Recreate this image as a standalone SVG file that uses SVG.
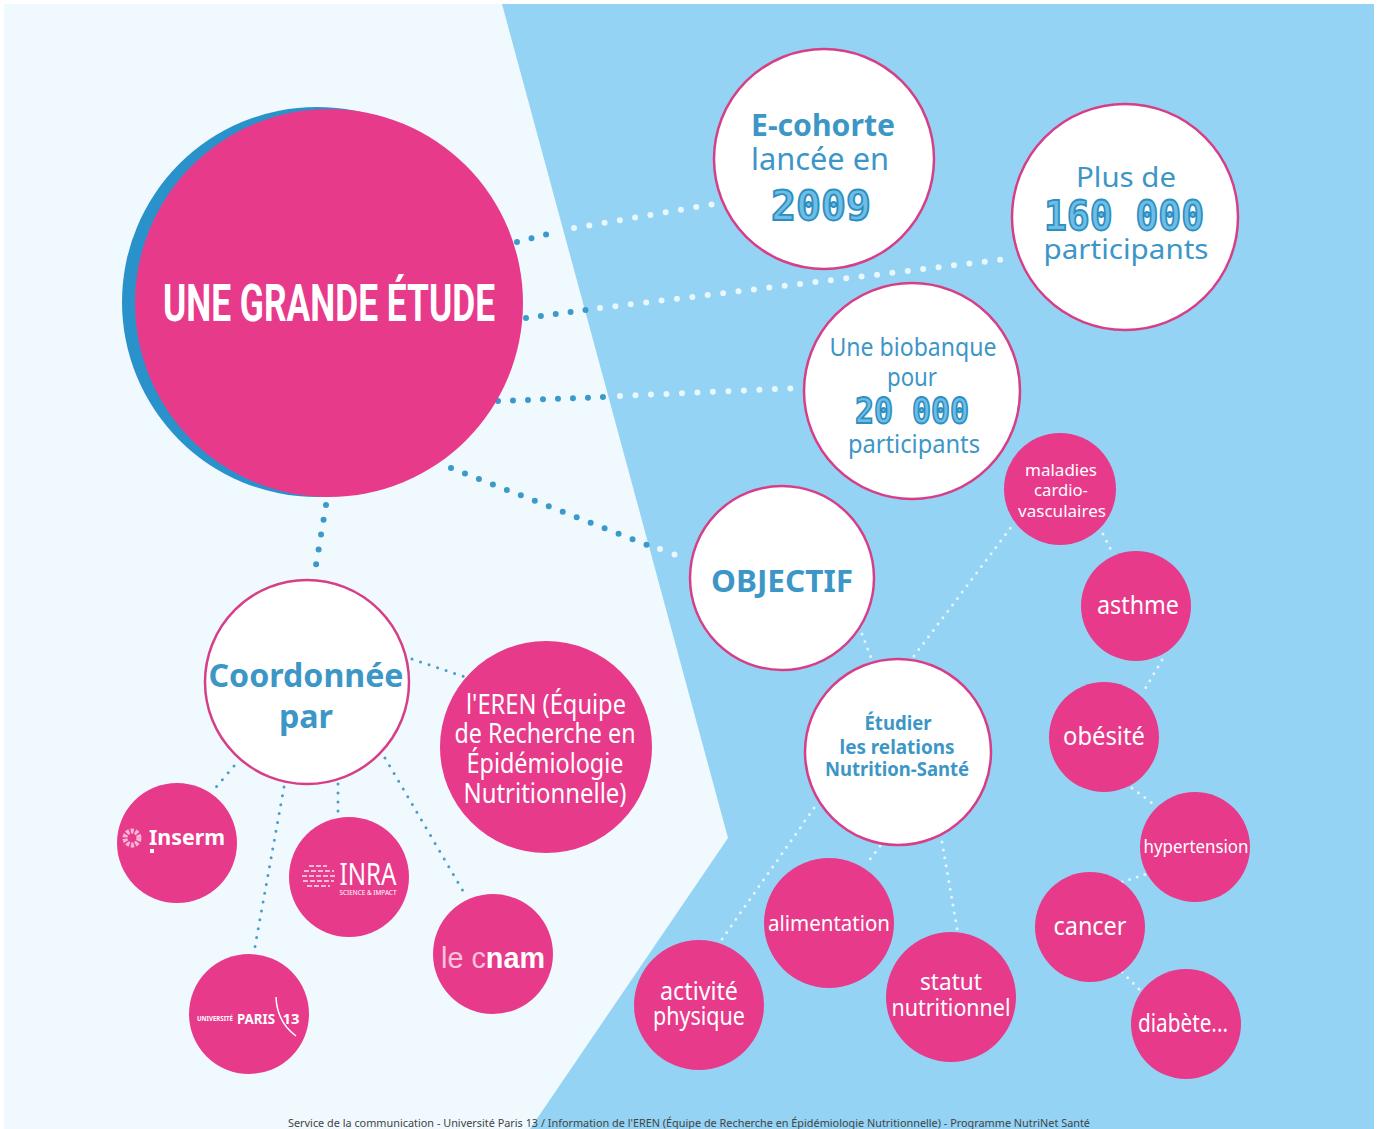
<svg xmlns="http://www.w3.org/2000/svg" width="1380" height="1129" viewBox="0 0 1380 1129">
<style>
text{font-family:"Noto Sans","DejaVu Sans",sans-serif;text-anchor:middle}
.w{fill:#fff;stroke:#d63f87;stroke-width:2.5}
.p{fill:#e83a8b}
.b{fill:#3c96c6}
.t{fill:#fff}
.n{fill:#6dbde6;stroke:#2d8fc0;stroke-width:1.8;font-family:"DejaVu Sans Mono",monospace;font-weight:700}
.c{fill:none;stroke-linecap:round}
.dk{stroke:#3a9aca;stroke-width:6;stroke-dasharray:0 15}
.lt{stroke:#eaf7fd;stroke-width:6;stroke-dasharray:0 15.5}
.thin{stroke:#4b9cc8;stroke-width:3;stroke-dasharray:0 9}
.thinw{stroke:#e4f4fc;stroke-width:3;stroke-dasharray:0 8}
.logo{fill:none;stroke:#f6b9d5;stroke-width:2;stroke-dasharray:5 2}
</style>
<rect width="1380" height="1129" fill="#fff"/>
<rect x="4" y="4" width="1370" height="1125" fill="#f0f9fd"/>
<polygon points="502,4 1374,4 1374,1129 530,1129 728,838" fill="#94d3f3"/>
<g id="connectors">
<path class="c dk" d="M517 242L556 232"/><path class="c lt" d="M574 228L720 203"/>
<path class="c dk" d="M526 318L586 310"/><path class="c lt" d="M600 308L1015 258"/>
<path class="c dk" d="M498 401L605 397"/><path class="c lt" d="M620 396L800 388"/>
<path class="c dk" d="M451 468L650 546"/><path class="c lt" d="M660 549L684 558"/>
<path class="c dk" d="M326 505L314 577"/>
<path class="c thin" d="M412 659L465 677"/>
<path class="c thin" d="M234 766L212 792"/>
<path class="c thin" d="M284 787L254 952"/>
<path class="c thin" d="M338 784V816"/>
<path class="c thin" d="M385 758L466 896"/>
<path class="c thinw" d="M862 634L872 660"/>
<path class="c thinw" d="M914 656L1012 526"/>
<path class="c thinw" d="M1103 534L1112 552"/>
<path class="c thinw" d="M1162 660L1142 694"/>
<path class="c thinw" d="M1132 788L1156 806"/>
<path class="c thinw" d="M1122 882L1146 874"/>
<path class="c thinw" d="M1122 972L1140 990"/>
<path class="c thinw" d="M814 808L720 942"/>
<path class="c thinw" d="M880 846L868 862"/>
<path class="c thinw" d="M942 842L958 934"/>
</g>
<g id="main">
<circle cx="317" cy="302" r="195" fill="#2a92cb"/>
<circle cx="329" cy="303" r="194" class="p"/>
<text x="329" y="321" class="t" font-size="52" font-weight="700" style="font-family:Roboto,sans-serif" textLength="332" lengthAdjust="spacingAndGlyphs">UNE GRANDE ÉTUDE</text>
</g>
<g id="ecohorte">
<circle cx="824" cy="159" r="110" class="w"/>
<text x="823" y="136" class="b" font-size="31" font-weight="700" textLength="144" lengthAdjust="spacingAndGlyphs">E-cohorte</text>
<text x="820" y="170" class="b" font-size="30" textLength="138" lengthAdjust="spacingAndGlyphs">lancée en</text>
<text x="821" y="220" class="n" font-size="40" textLength="100" lengthAdjust="spacingAndGlyphs">2009</text>
</g>
<g id="participants">
<circle cx="1125" cy="217" r="113" class="w"/>
<text x="1126" y="187" class="b" font-size="28" textLength="100" lengthAdjust="spacingAndGlyphs">Plus de</text>
<text x="1124" y="230" class="n" font-size="40" textLength="160" lengthAdjust="spacingAndGlyphs">160 000</text>
<text x="1126" y="259" class="b" font-size="28" textLength="165" lengthAdjust="spacingAndGlyphs">participants</text>
</g>
<g id="biobanque">
<circle cx="912" cy="391" r="108" class="w"/>
<text x="913" y="356" class="b" font-size="25" textLength="167" lengthAdjust="spacingAndGlyphs">Une biobanque</text>
<text x="912" y="386" class="b" font-size="25" textLength="50" lengthAdjust="spacingAndGlyphs">pour</text>
<text x="912" y="423" class="n" font-size="36" textLength="114" lengthAdjust="spacingAndGlyphs">20 000</text>
<text x="914" y="453" class="b" font-size="25" textLength="132" lengthAdjust="spacingAndGlyphs">participants</text>
</g>
<g id="objectif">
<circle cx="782" cy="578" r="92" class="w"/>
<text x="782" y="592" class="b" font-size="30" font-weight="700" textLength="142" lengthAdjust="spacingAndGlyphs">OBJECTIF</text>
</g>
<g id="etudier">
<circle cx="898" cy="752" r="93" class="w"/>
<text x="898" y="730" class="b" font-size="19" font-weight="700" textLength="67" lengthAdjust="spacingAndGlyphs">Étudier</text>
<text x="897" y="754" class="b" font-size="19" font-weight="700" textLength="115" lengthAdjust="spacingAndGlyphs">les relations</text>
<text x="897" y="776" class="b" font-size="19" font-weight="700" textLength="144" lengthAdjust="spacingAndGlyphs">Nutrition-Santé</text>
</g>
<g id="coordonnee">
<circle cx="307" cy="682" r="102" class="w"/>
<text x="306" y="687" class="b" font-size="33" font-weight="700" textLength="195" lengthAdjust="spacingAndGlyphs">Coordonnée</text>
<text x="306" y="728" class="b" font-size="33" font-weight="700" textLength="54" lengthAdjust="spacingAndGlyphs">par</text>
</g>
<g id="eren">
<circle cx="546" cy="747" r="106" class="p"/>
<text x="546" y="714" class="t" font-size="27" textLength="160" lengthAdjust="spacingAndGlyphs">l'EREN (Équipe</text>
<text x="545" y="743" class="t" font-size="27" textLength="181" lengthAdjust="spacingAndGlyphs">de Recherche en</text>
<text x="545" y="773" class="t" font-size="27" textLength="157" lengthAdjust="spacingAndGlyphs">Épidémiologie</text>
<text x="545" y="803" class="t" font-size="27" textLength="163" lengthAdjust="spacingAndGlyphs">Nutritionnelle)</text>
</g>
<g id="inserm">
<circle cx="177" cy="843" r="60" class="p"/>
<circle cx="132" cy="838" r="7" fill="none" stroke="#f6b9d5" stroke-width="5" stroke-dasharray="3 1.5"/>
<rect x="150" y="849" width="4" height="4" fill="#fff"/>
<text x="187" y="845" class="t" font-size="22" font-weight="700" textLength="76" lengthAdjust="spacingAndGlyphs">Inserm</text>
</g>
<g id="inra">
<circle cx="349" cy="877" r="60" class="p"/>
<path class="logo" d="M309 866H327M304 871H334M302 876H335M303 881H334M307 886H330"/>
<text x="368" y="885" class="t" font-size="30" textLength="57" lengthAdjust="spacingAndGlyphs">INRA</text>
<text x="368" y="895" class="t" font-size="7" textLength="57" lengthAdjust="spacingAndGlyphs">SCIENCE &amp; IMPACT</text>
</g>
<g id="cnam">
<circle cx="493" cy="954" r="60" class="p"/>
<text x="493" y="968" class="t" font-size="29" style="font-family:'Liberation Sans',sans-serif" textLength="104" lengthAdjust="spacingAndGlyphs"><tspan fill="#f8c3dc">le c</tspan><tspan font-weight="700">nam</tspan></text>
</g>
<g id="paris13">
<circle cx="249" cy="1014" r="60" class="p"/>
<text x="215" y="1021" class="t" font-size="7" font-weight="700" textLength="36" lengthAdjust="spacingAndGlyphs">UNIVERSITÉ</text>
<text x="256" y="1024" class="t" font-size="15" font-weight="700" textLength="38" lengthAdjust="spacingAndGlyphs">PARIS</text>
<text x="291" y="1024" class="t" font-size="15" font-weight="700" textLength="17" lengthAdjust="spacingAndGlyphs">13</text>
<path d="M276 997Q277 1022 296 1036" fill="none" stroke="#fff" stroke-width="1.5"/>
</g>
<g id="maladies">
<circle cx="1060" cy="489" r="56" class="p"/>
<text x="1061" y="476" class="t" font-size="17" textLength="72" lengthAdjust="spacingAndGlyphs">maladies</text>
<text x="1061" y="496" class="t" font-size="17" textLength="54" lengthAdjust="spacingAndGlyphs">cardio-</text>
<text x="1062" y="517" class="t" font-size="17" textLength="88" lengthAdjust="spacingAndGlyphs">vasculaires</text>
</g>
<g id="asthme">
<circle cx="1136" cy="606" r="55" class="p"/>
<text x="1138" y="614" class="t" font-size="25" textLength="82" lengthAdjust="spacingAndGlyphs">asthme</text>
</g>
<g id="obesite">
<circle cx="1104" cy="737" r="55" class="p"/>
<text x="1104" y="745" class="t" font-size="25" textLength="82" lengthAdjust="spacingAndGlyphs">obésité</text>
</g>
<g id="hypertension">
<circle cx="1195" cy="847" r="55" class="p"/>
<text x="1196" y="853" class="t" font-size="18" textLength="105" lengthAdjust="spacingAndGlyphs">hypertension</text>
</g>
<g id="cancer">
<circle cx="1090" cy="927" r="55" class="p"/>
<text x="1090" y="935" class="t" font-size="25" textLength="73" lengthAdjust="spacingAndGlyphs">cancer</text>
</g>
<g id="diabete">
<circle cx="1186" cy="1024" r="55" class="p"/>
<text x="1183" y="1032" class="t" font-size="26" textLength="90" lengthAdjust="spacingAndGlyphs">diabète...</text>
</g>
<g id="alimentation">
<circle cx="829" cy="923" r="65" class="p"/>
<text x="829" y="931" class="t" font-size="22" textLength="122" lengthAdjust="spacingAndGlyphs">alimentation</text>
</g>
<g id="statut">
<circle cx="951" cy="997" r="65" class="p"/>
<text x="951" y="990" class="t" font-size="23" textLength="62" lengthAdjust="spacingAndGlyphs">statut</text>
<text x="951" y="1016" class="t" font-size="23" textLength="119" lengthAdjust="spacingAndGlyphs">nutritionnel</text>
</g>
<g id="activite">
<circle cx="699" cy="1005" r="65" class="p"/>
<text x="699" y="1000" class="t" font-size="25" textLength="78" lengthAdjust="spacingAndGlyphs">activité</text>
<text x="699" y="1025" class="t" font-size="25" textLength="92" lengthAdjust="spacingAndGlyphs">physique</text>
</g>
<text x="689" y="1127" font-size="10" fill="#444" textLength="802" lengthAdjust="spacingAndGlyphs">Service de la communication - Université Paris 13 / Information de l'EREN (Équipe de Recherche en Épidémiologie Nutritionnelle) - Programme NutriNet Santé</text>
</svg>
